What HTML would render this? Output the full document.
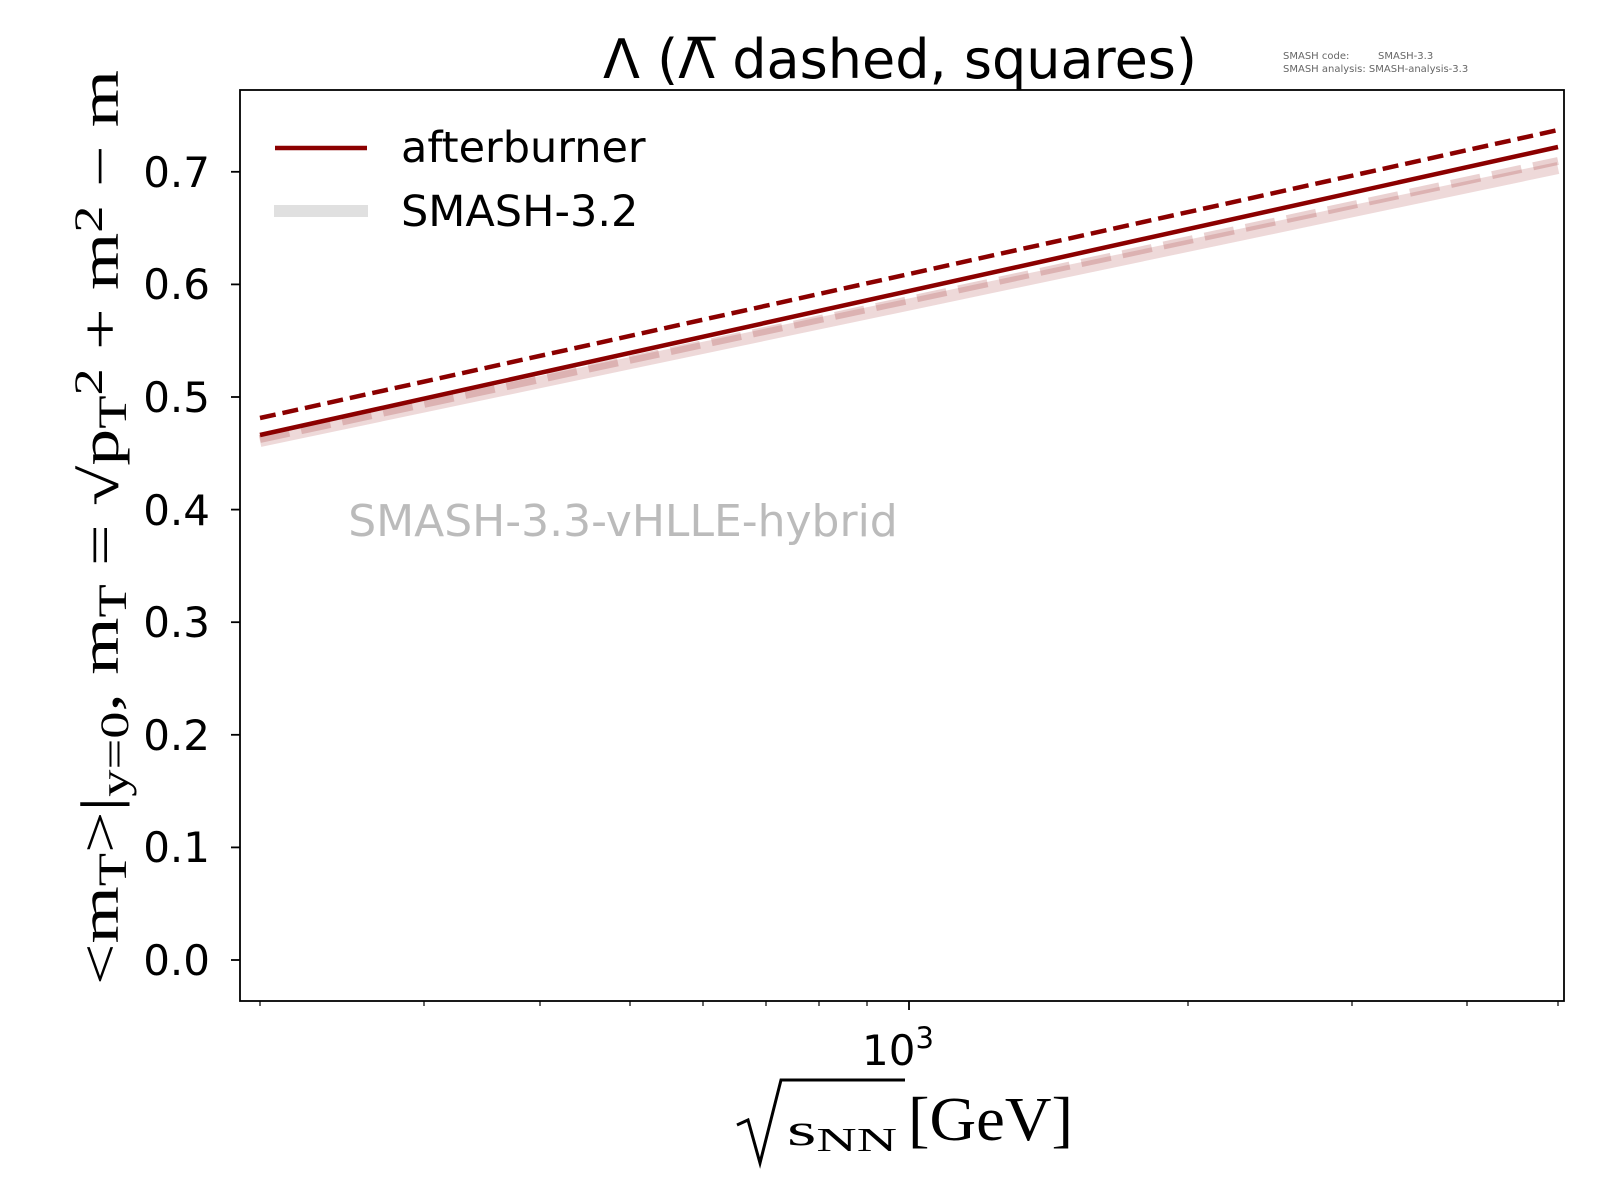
<!DOCTYPE html>
<html><head><meta charset="utf-8"><style>body{margin:0;background:#fff}svg{display:block}</style></head>
<body>
<svg width="1600" height="1200" viewBox="0 0 1600 1200" xmlns="http://www.w3.org/2000/svg" font-family="'DejaVu Sans','Liberation Sans',sans-serif">
<rect width="1600" height="1200" fill="#fff"/>
<text x="900" y="78" font-size="54" text-anchor="middle">Λ (Λ̅ dashed, squares)</text>
<text x="1283" y="59" font-size="10" fill="#666">SMASH code:</text>
<text x="1378" y="59" font-size="10" fill="#666">SMASH-3.3</text>
<text x="1283" y="72" font-size="10" fill="#666">SMASH analysis: SMASH-analysis-3.3</text>
<line x1="260" y1="441" x2="1558" y2="168" stroke="#8b0000" stroke-opacity="0.15" stroke-width="12"/>
<line x1="260" y1="439" x2="1558" y2="161" stroke="#8b0000" stroke-opacity="0.18" stroke-width="8" stroke-dasharray="30,12"/>
<line x1="260" y1="435" x2="1558" y2="147" stroke="#8b0000" stroke-width="4.5"/>
<line x1="260" y1="418" x2="1558" y2="130" stroke="#8b0000" stroke-width="4.5" stroke-dasharray="16,7"/>
<text x="623" y="536" font-size="44" fill="#bbb" text-anchor="middle">SMASH-3.3-vHLLE-hybrid</text>
<line x1="275" y1="148" x2="367" y2="148" stroke="#8b0000" stroke-width="4.5"/>
<text x="401" y="162" font-size="43">afterburner</text>
<line x1="274" y1="211" x2="368" y2="211" stroke="#e0e0e0" stroke-width="12"/>
<text x="401" y="226" font-size="43">SMASH-3.2</text>
<rect x="240" y="90" width="1324" height="911" fill="none" stroke="#000" stroke-width="1.8"/>
<g stroke="#000" stroke-width="1.8">
<line x1="231" y1="960" x2="240" y2="960"/><line x1="231" y1="847.4" x2="240" y2="847.4"/>
<line x1="231" y1="734.8" x2="240" y2="734.8"/><line x1="231" y1="622.2" x2="240" y2="622.2"/>
<line x1="231" y1="509.6" x2="240" y2="509.6"/><line x1="231" y1="397" x2="240" y2="397"/>
<line x1="231" y1="284.4" x2="240" y2="284.4"/><line x1="231" y1="171.8" x2="240" y2="171.8"/>
<line x1="909" y1="1001" x2="909" y2="1010"/>
</g>
<g stroke="#000" stroke-width="1.2">
<line x1="260" y1="1001" x2="260" y2="1006"/><line x1="424" y1="1001" x2="424" y2="1006"/>
<line x1="540" y1="1001" x2="540" y2="1006"/><line x1="630" y1="1001" x2="630" y2="1006"/>
<line x1="703" y1="1001" x2="703" y2="1006"/><line x1="766" y1="1001" x2="766" y2="1006"/>
<line x1="819" y1="1001" x2="819" y2="1006"/><line x1="867" y1="1001" x2="867" y2="1006"/>
<line x1="1188" y1="1001" x2="1188" y2="1006"/><line x1="1352" y1="1001" x2="1352" y2="1006"/>
<line x1="1467" y1="1001" x2="1467" y2="1006"/><line x1="1558" y1="1001" x2="1558" y2="1006"/>
</g>
<g font-size="42" text-anchor="end">
<text x="210" y="975">0.0</text><text x="210" y="862">0.1</text><text x="210" y="750">0.2</text>
<text x="210" y="637">0.3</text><text x="210" y="525">0.4</text><text x="210" y="412">0.5</text>
<text x="210" y="299">0.6</text><text x="210" y="187">0.7</text>
</g>
<text x="898" y="1065" font-size="42" text-anchor="middle">10<tspan font-size="29" dy="-17">3</tspan></text>
<g font-family="'Liberation Serif',serif">
<path d="M737 1125 L748 1120 L760 1163 L781 1080 L905 1080" fill="none" stroke="#000" stroke-width="3"/>
<text x="787" y="1145" font-size="46" textLength="110" lengthAdjust="spacingAndGlyphs">s<tspan font-size="34" dy="6">NN</tspan></text>
<text x="908" y="1140" font-size="62" textLength="165" lengthAdjust="spacingAndGlyphs">[GeV]</text>
</g>
<g transform="translate(118,985) rotate(-90)" font-family="'Liberation Serif',serif">
<text x="0" y="0" font-size="54" textLength="915" lengthAdjust="spacingAndGlyphs">&lt;m<tspan font-size="40" dy="8">T</tspan><tspan dy="-8">&gt;|</tspan><tspan font-size="40" dy="10">y=0</tspan><tspan dy="-10">, m</tspan><tspan font-size="40" dy="8">T</tspan><tspan dy="-8"> = √p</tspan><tspan font-size="40" dy="8">T</tspan><tspan font-size="40" dy="-24">2</tspan><tspan dy="16"> + m</tspan><tspan font-size="40" dy="-16">2</tspan><tspan dy="16"> − m</tspan></text>
</g>
</svg>
</body></html>
